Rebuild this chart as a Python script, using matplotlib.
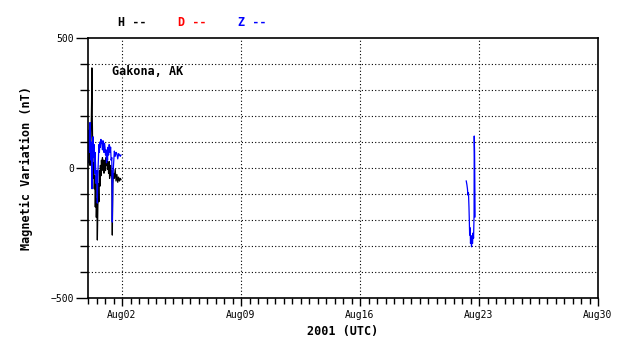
import numpy as np
import pandas as pd
import matplotlib
matplotlib.use("Agg")
import matplotlib.pyplot as plt
import matplotlib.dates as mdt
from matplotlib.ticker import MultipleLocator, FixedLocator

plt.rcParams['font.family'] = ['DejaVu Sans Mono']

start = pd.Timestamp('2001-07-31')

# H component (nT), time as days after Jul 31 00:00 UTC
h_days = [0.00, 0.03, 0.06, 0.09, 0.12, 0.15, 0.18, 0.21, 0.23, 0.25, 0.28, 0.31,
          0.34, 0.37, 0.40, 0.43, 0.46, 0.49, 0.52, 0.55, 0.58, 0.61, 0.64, 0.67,
          0.70, 0.73, 0.76, 0.79, 0.82, 0.85, 0.88, 0.91, 0.94, 0.97, 1.00, 1.03,
          1.06, 1.09, 1.12, 1.15, 1.18, 1.21, 1.24, 1.27, 1.30, 1.33, 1.36, 1.40,
          1.43, 1.46, 1.50, 1.55, 1.60, 1.65, 1.70, 1.75, 1.80, 1.85, 1.90, 1.94]
h_vals = [40, 90, 20, 70, 10, 60, 120, 250, 385, 200, 60, -40,
          20, -80, -30, -150, -60, -190, -120, -277, -150, -60, -130, -10,
          -70, 10, -30, 30, -10, 40, 0, 30, -20, 20, 30, -10,
          40, 10, 30, -5, 20, -20, 25, -40, -10, 10, -30, -10,
          -258, -60, -20, -40, -5, -50, -25, -55, -35, -50, -40, -45]

# D component: no data in this window
d_days = []
d_vals = []

# Z component (nT); NaN marks the data gap
z_days = [0.00, 0.03, 0.06, 0.09, 0.12, 0.15, 0.18, 0.21, 0.24, 0.27, 0.30, 0.33,
          0.36, 0.39, 0.42, 0.45, 0.48, 0.51, 0.55, 0.58, 0.61, 0.64, 0.67, 0.70,
          0.73, 0.76, 0.79, 0.82, 0.85, 0.88, 0.91, 0.94, 0.97, 1.00, 1.03, 1.06,
          1.09, 1.12, 1.15, 1.18, 1.21, 1.24, 1.27, 1.30, 1.33, 1.36, 1.40, 1.43,
          1.46, 1.50, 1.55, 1.60, 1.65, 1.70, 1.75, 1.80, 1.85, 1.90, 1.94,
          5.00,
          22.25, 22.29, 22.32, 22.35, 22.38, 22.41, 22.43, 22.45, 22.48, 22.50,
          22.53, 22.56, 22.58, 22.62, 22.65, 22.68, 22.71, 22.72, 22.74, 22.77]
z_vals = [20, 100, 146, 60, 175, 80, 30, 100, -80, 50, 120, 40,
          90, -20, 60, 0, -60, -10, -135, -20, 30, 90, 60, 100,
          80, 110, 95, 100, 70, 105, 90, 60, 95, 80, 50, 70,
          20, 60, 30, 80, 50, 90, 85, 60, 80, 30, 40, -208,
          -50, 10, 65, 45, 60, 55, 35, 55, 50, 45, 50,
          np.nan,
          -50, -65, -80, -104, -95, -150, -200, -258, -230, -290,
          -260, -303, -270, -290, -250, -270, -180, 123, 62, -188]

h_t = start + pd.to_timedelta(h_days, unit='D')
z_t = start + pd.to_timedelta(z_days, unit='D')

fig = plt.figure(figsize=(6.38, 3.59), dpi=100)
ax = fig.add_axes([88/638, 1 - 298/359, 510/638, 260/359])

ax.plot(h_t, h_vals, color='black', lw=0.9)
if d_days:
    ax.plot(start + pd.to_timedelta(d_days, unit='D'), d_vals, color='red', lw=0.9)
ax.plot(z_t, z_vals, color='blue', lw=0.9)

ax.set_xlim(start, start + pd.Timedelta(days=30))
ax.set_ylim(-500, 500)

# x ticks: labelled weekly from Aug02, minor every 12 h
majors = [pd.Timestamp('2001-08-02') + pd.Timedelta(days=7*i) for i in range(5)]
ax.xaxis.set_major_locator(FixedLocator(mdt.date2num(majors)))
ax.xaxis.set_major_formatter(mdt.DateFormatter('%b%d'))
ax.xaxis.set_minor_locator(mdt.HourLocator(byhour=[0, 12]))

ax.yaxis.set_major_locator(FixedLocator([-500, 0, 500]))
ax.yaxis.set_minor_locator(MultipleLocator(100))

ax.tick_params(axis='both', which='major', length=6, width=1, labelsize=7, pad=3)
ax.tick_params(axis='both', which='minor', length=4, width=1)
ax.tick_params(axis='y', which='major', length=9, pad=1)
ax.tick_params(axis='y', which='minor', length=6)

for s in ax.spines.values():
    s.set_linewidth(1.2)

# dotted grid: every 100 nT, and at the labelled dates (not at the right edge)
for v in range(-400, 500, 100):
    ax.axhline(v, color='black', lw=0.8, ls=(0, (1, 2)), zorder=0)
for d in majors[:-1]:
    ax.axvline(d, color='black', lw=0.8, ls=(0, (1, 2)), zorder=0)

ax.set_xlabel('2001 (UTC)', fontsize=8.5, fontweight='bold')
ax.xaxis.set_label_coords(0.5, -0.105)
ax.set_ylabel('Magnetic Variation (nT)', fontsize=8.5, fontweight='bold')
ax.yaxis.set_label_coords(-0.108, 0.5)

ax.text(0.047, 0.87, 'Gakona, AK', transform=ax.transAxes, fontsize=8.5,
        fontweight='bold', va='center', ha='left')

fig.text(118/638, 1 - 22/359, 'H --', color='black', fontsize=8.5,
         fontweight='bold', va='center')
fig.text(178/638, 1 - 22/359, 'D --', color='red', fontsize=8.5,
         fontweight='bold', va='center')
fig.text(238/638, 1 - 22/359, 'Z --', color='blue', fontsize=8.5,
         fontweight='bold', va='center')

fig.savefig('out.png', dpi=100)
